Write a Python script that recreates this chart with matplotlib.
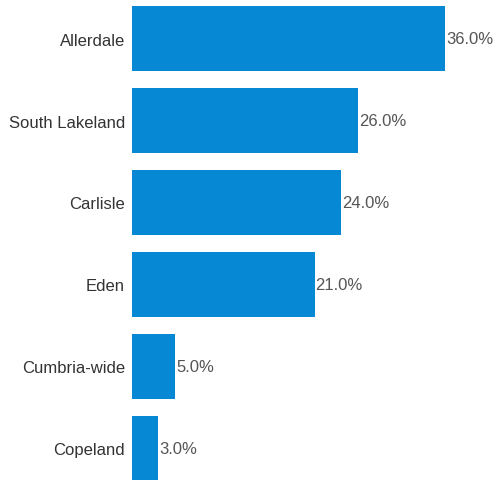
import matplotlib
matplotlib.use("Agg")
import matplotlib.pyplot as plt

categories = ["Allerdale", "South Lakeland", "Carlisle", "Eden", "Cumbria-wide", "Copeland"]
values = [36.0, 26.0, 24.0, 21.0, 5.0, 3.0]

plt.rcParams['font.family'] = ['Liberation Sans', 'DejaVu Sans']

W, H = 497, 481
fig = plt.figure(figsize=(W / 100, H / 100), dpi=100)
left_px, top_px, bottom_px = 132, 7, 482
ax = fig.add_axes([left_px / W, (H - bottom_px) / H, (W - left_px) / W, (bottom_px - top_px) / H])

bh = 65 / 82
pos = list(range(len(categories)))
ax.barh(pos, values, height=bh, color="#0788D4")
ax.set_ylim(len(categories) - 1 + bh / 2, -bh / 2)
ax.set_xlim(0, 36.0 * (W - left_px) / 313)

ax.set_yticks(pos)
ax.set_yticklabels(categories, fontsize=12, color="#333333")
ax.tick_params(axis="y", length=0, pad=5)
ax.set_xticks([])
for s in ax.spines.values():
    s.set_visible(False)

for p, v in zip(pos, values):
    ax.annotate(f"{v:.1f}%", xy=(v, p), xytext=(0.7, 0), textcoords="offset points",
                ha="left", va="center", fontsize=12, color="#555555")

fig.savefig("out.png", dpi=100)
